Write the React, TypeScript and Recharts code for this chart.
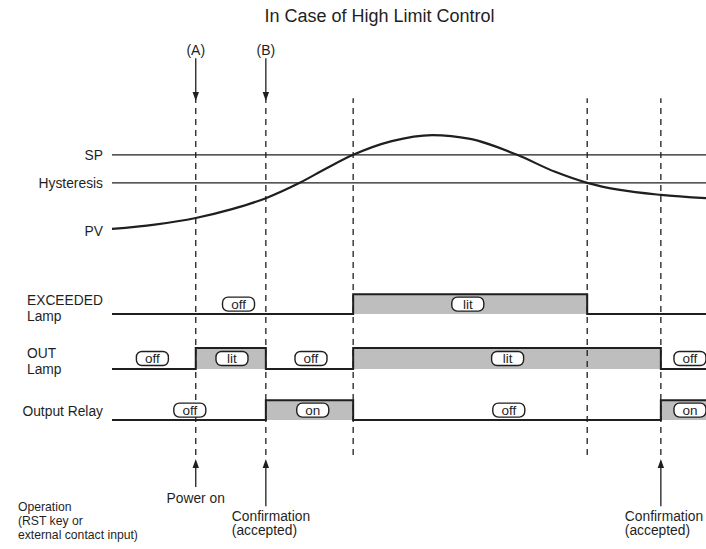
import React from 'react';
import { ComposedChart, Line, Area, XAxis, YAxis, ReferenceLine, ReferenceDot } from 'recharts';

// Timing chart: high limit control, time in arbitrary units (0..100 across the plot)
const FONT = "'Liberation Sans', Arial, Helvetica, sans-serif";
const INK = '#1f1f1f';
const GRAY = '#bebebe';

const TITLE = 'In Case of High Limit Control';

// event instants (A = power on, B = confirmation, C/D = PV crossings, E = 2nd confirmation)
const EVENT_TIMES = [14.1, 25.9, 40.6, 80.0, 92.4];

const SP_LEVEL = 71.8;
const HYST_LEVEL = 66.7;

// process value
const PV_TIMES = [0, 7.2, 14.1, 20.2, 25.9, 31.6, 36.2, 40.6, 47.1, 53.9, 60.3, 68.2, 74.6, 80.0, 85.5, 92.4, 100];
const PV_VALUES = [58.3, 59.1, 60.3, 61.9, 63.9, 66.7, 69.4, 71.8, 74.3, 75.4, 74.7, 71.8, 68.7, 66.7, 65.4, 64.5, 63.9];

// digital rows: low / high level of each trace
const ROW_KEYS = ['exceeded', 'out', 'relay'];
const ROW_LOW = [42.8, 32.8, 23.5];
const ROW_HIGH = [46.4, 36.6, 27.1];

// state changes (state holds until next time)
const STEP_TIMES = [0, 14.1, 25.9, 40.6, 80.0, 92.4, 100];
const EXCEEDED_STATE = [0, 0, 0, 1, 0, 0, 0];
const OUT_STATE = [0, 1, 0, 1, 1, 0, 0];
const RELAY_STATE = [0, 0, 1, 0, 0, 1, 1];

// state tags
const TAG_TIMES = [21.3, 59.9, 6.8, 20.2, 33.5, 66.6, 97.3, 13.1, 33.8, 66.8, 97.3];
const TAG_LEVELS = [44.6, 44.6, 34.7, 34.7, 34.7, 34.7, 34.7, 25.3, 25.3, 25.3, 25.3];
const TAG_TEXTS = ['off', 'lit', 'off', 'lit', 'off', 'lit', 'off', 'off', 'on', 'off', 'on'];

const DASH_TOP = 82.1;
const DASH_BOTTOM = 17.1;
const OPERATION_LEVEL = 7.65;

const stepData = STEP_TIMES.map((t, i) => ({
  t,
  exceeded: ROW_LOW[0] + EXCEEDED_STATE[i] * (ROW_HIGH[0] - ROW_LOW[0]),
  out: ROW_LOW[1] + OUT_STATE[i] * (ROW_HIGH[1] - ROW_LOW[1]),
  relay: ROW_LOW[2] + RELAY_STATE[i] * (ROW_HIGH[2] - ROW_LOW[2]),
}));
const pvData = PV_TIMES.map((t, i) => ({ t, v: PV_VALUES[i] }));

const AXIS_TICKS = [SP_LEVEL, HYST_LEVEL, PV_VALUES[0], ROW_LOW[0], ROW_LOW[1], ROW_LOW[2], OPERATION_LEVEL];
const AXIS_LABELS = [
  ['SP'],
  ['Hysteresis'],
  ['PV'],
  ['EXCEEDED', 'Lamp'],
  ['OUT', 'Lamp'],
  ['Output Relay'],
  ['Operation', '(RST key or', 'external contact input)'],
];
// how each label block sits relative to its tick: [anchor, x, first line offset, line gap, font size]
const LABEL_LAYOUT: [string, number, number, number, number][] = [
  ['end', 103, 0, 0, 13.8],
  ['end', 103, 0, 0, 13.8],
  ['end', 103, 2, 0, 13.8],
  ['start', 27, -14, 16, 13.8],
  ['start', 27, -16, 16, 13.8],
  ['end', 103, -9, 0, 13.8],
  ['start', 18, 0, 14, 12.2],
];

function AxisLabel(props: any) {
  const { y, payload } = props;
  const i = AXIS_TICKS.findIndex((v) => Math.abs(v - payload.value) < 1e-6);
  if (i < 0) return null;
  const [anchor, lx, off, gap, size] = LABEL_LAYOUT[i];
  return (
    <g>
      {AXIS_LABELS[i].map((s, k) => (
        <text
          key={k}
          x={lx}
          y={y + off + k * gap}
          dy="0.36em"
          textAnchor={anchor}
          fontFamily={FONT}
          fontSize={size}
          fill={INK}
        >
          {s}
        </text>
      ))}
    </g>
  );
}

function Tag(props: any) {
  const { cx, cy, text } = props;
  if (cx == null || cy == null) return null;
  return (
    <g>
      <rect x={cx - 16} y={cy - 7} width={32} height={14} rx={5.5} fill="#fff" stroke={INK} strokeWidth={1.4} />
      <text x={cx} y={cy} dy="0.36em" textAnchor="middle" fontFamily={FONT} fontSize={13.5} fill={INK}>
        {text}
      </text>
    </g>
  );
}

function Arrow(props: any) {
  const { x1, y1, x2, y2, caption, anchor, cdx, cdy, size } = props;
  if ([x1, y1, x2, y2].some((n) => n == null || Number.isNaN(n))) return null;
  const dir = y2 > y1 ? 1 : -1;
  const head = 9;
  return (
    <g>
      <line x1={x1} y1={y1} x2={x2} y2={y2 - dir * head} stroke={INK} strokeWidth={1.3} />
      <polygon
        points={`${x2},${y2} ${x2 - 3.2},${y2 - dir * head} ${x2 + 3.2},${y2 - dir * head}`}
        fill={INK}
      />
      {caption.map((s: string, k: number) => (
        <text
          key={k}
          x={x1 + cdx}
          y={y1 + cdy + k * 14}
          dy="0.36em"
          textAnchor={anchor}
          fontFamily={FONT}
          fontSize={size}
          fill={INK}
        >
          {s}
        </text>
      ))}
    </g>
  );
}

// arrows: [time, from level, to level, caption, anchor, caption dx, caption dy, font size]
const ARROWS: [number, number, number, string[], string, number, number, number][] = [
  [EVENT_TIMES[0], 89.4, 81.6, ['(A)'], 'middle', 0, -8, 14],
  [EVENT_TIMES[1], 89.4, 81.6, ['(B)'], 'middle', 0, -8, 14],
  [EVENT_TIMES[0], 11.3, 16.4, ['Power on'], 'middle', 0, 11, 13.8],
  [EVENT_TIMES[1], 7.8, 16.4, ['Confirmation', '(accepted)'], 'start', -34, 10, 13.8],
  [EVENT_TIMES[4], 7.8, 16.4, ['Confirmation', '(accepted)'], 'start', -36, 10, 13.8],
];

export default function App() {
  return (
    <div style={{ position: 'absolute', left: 0, top: 0, width: 706, height: 549, background: '#fff' }}>
      <div
        style={{
          position: 'absolute',
          left: 0,
          top: 5,
          width: 759,
          textAlign: 'center',
          fontFamily: FONT,
          fontSize: 18,
          lineHeight: '22px',
          color: INK,
        }}
      >
        {TITLE}
      </div>
      <ComposedChart width={706} height={549} margin={{ top: 0, right: 0, bottom: 0, left: 0 }} data={stepData}>
        <XAxis type="number" dataKey="t" domain={[0, 100]} hide allowDataOverflow />
        <YAxis
          type="number"
          domain={[0, 100]}
          width={112}
          ticks={AXIS_TICKS}
          interval={0}
          axisLine={false}
          tickLine={false}
          tickSize={0}
          tickMargin={0}
          tick={<AxisLabel />}
          allowDataOverflow
        />
        {ROW_KEYS.map((k, i) => (
          <Area
            key={k}
            dataKey={k}
            type="stepAfter"
            baseValue={ROW_LOW[i]}
            stroke={INK}
            strokeWidth={2}
            fill={GRAY}
            fillOpacity={1}
            dot={false}
            activeDot={false}
            isAnimationActive={false}
          />
        ))}
        <ReferenceLine y={SP_LEVEL} stroke={INK} strokeWidth={1.2} />
        <ReferenceLine y={HYST_LEVEL} stroke={INK} strokeWidth={1.2} />
        <Line
          data={pvData}
          dataKey="v"
          type="monotone"
          stroke={INK}
          strokeWidth={2.2}
          dot={false}
          activeDot={false}
          isAnimationActive={false}
        />
        {EVENT_TIMES.map((t) => (
          <ReferenceLine
            key={`d${t}`}
            segment={[
              { x: t, y: DASH_BOTTOM },
              { x: t, y: DASH_TOP },
            ]}
            stroke={INK}
            strokeWidth={1.3}
            strokeDasharray="6 5"
          />
        ))}
        {ARROWS.map(([t, from, to, caption, anchor, cdx, cdy, size], i) => (
          <ReferenceLine
            key={`a${i}`}
            segment={[
              { x: t, y: from },
              { x: t, y: to },
            ]}
            ifOverflow="visible"
            shape={(p: any) => (
              <Arrow {...p} caption={caption} anchor={anchor} cdx={cdx} cdy={cdy} size={size} />
            )}
          />
        ))}
        {TAG_TIMES.map((t, i) => (
          <ReferenceDot
            key={`g${i}`}
            x={t}
            y={TAG_LEVELS[i]}
            r={7}
            ifOverflow="visible"
            shape={(p: any) => <Tag {...p} text={TAG_TEXTS[i]} />}
          />
        ))}
      </ComposedChart>
    </div>
  );
}
